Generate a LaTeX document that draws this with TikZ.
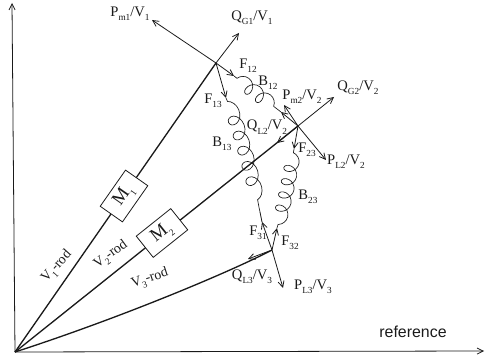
\documentclass[tikz,border=0pt]{standalone}
\usepackage{fontspec}
\setmainfont{Liberation Serif}
\setsansfont{Liberation Sans}
\usetikzlibrary{arrows.meta, decorations.pathmorphing}
\definecolor{cink}{HTML}{1A1A1A}
\tikzset{
  every picture/.style={line width=0.6pt, cink},
  label/.style={font=\fontsize{11pt}{12pt}\selectfont, inner sep=0pt, text=cink},
  rodlabel/.style={label, font=\fontsize{10.5pt}{11pt}\selectfont},
  rod/.style={line width=1pt},
  arrow/.style={-{Straight Barb[length=1.6mm, width=1.6mm]}, line width=0.6pt},
  spring/.style 2 args={decorate, decoration={coil, amplitude=1.9mm, segment length=#1, aspect=#2, pre length=1mm, post length=1mm}, line width=0.5pt},
  machine/.style={draw, fill=white, line width=0.6pt, minimum width=1.17cm, minimum height=0.72cm, inner sep=0pt, font=\fontsize{14pt}{15pt}\selectfont},
}
\newcommand{\sub}[1]{\raisebox{-0.3em}{\fontsize{7pt}{8pt}\selectfont #1}}

\begin{document}
\begin{tikzpicture}[x=0.0265cm, y=-0.0265cm]
  \useasboundingbox (0,0) rectangle (485,356);
  \coordinate (O) at (15,352);
  \coordinate (yend) at (12,3);
  \coordinate (xend) at (484,351);
  \coordinate (bus1) at (216,63);
  \coordinate (bus2) at (298,126);
  \coordinate (bus3) at (272,250);
  % axes
  \draw[arrow] (O) -- (yend);
  \draw[arrow] (O) -- (xend);
  % rods
  \draw[rod] (O) -- (bus1);
  \draw[rod] (O) -- (bus2);
  \draw[rod] (O) .. controls (120,318) and (230,272) .. (bus3);
  \draw[arrow] (bus2) -- (277,143);
  \draw[arrow] (bus3) -- (248,259);
  \node[machine, rotate=55] (m1) at (124,196) {M\sub{1}};
  \node[machine, rotate=38.6] (m2) at (162,233) {M\sub{2}};
  % powers
  \coordinate (pm1) at (152,20);
  \coordinate (qg1) at (239,33);
  \coordinate (pm2) at (284,105);
  \coordinate (qg2) at (334,97);
  \coordinate (pl2) at (326,160);
  \coordinate (pl3) at (283,288);
  \draw[arrow] (bus1) -- (pm1);
  \draw[arrow] (bus1) -- (qg1);
  \draw[arrow] (bus2) -- (pm2);
  \draw[arrow] (bus2) -- (qg2);
  \draw[arrow] (bus2) -- (pl2);
  \draw[arrow] (bus3) -- (pl3);
  % flows
  \coordinate (f12) at (234,76);
  \coordinate (f13) at (226,98);
  \coordinate (f21) at (281,112);
  \coordinate (f23) at (294,149);
  \coordinate (f31) at (262,222);
  \coordinate (f32) at (277,228);
  \draw[arrow] (bus1) -- (f12);
  \draw[arrow] (bus1) -- (f13);
  \draw[arrow] (bus2) -- (f21);
  \draw[arrow] (bus2) -- (f23);
  \draw[arrow] (bus3) -- (f31);
  \draw[arrow] (bus3) -- (f32);
  % springs
  \draw[spring={3.6mm}{0.85}] (f12) -- (f21);
  \draw[spring={4.2mm}{1.1}] (f13) .. controls (240,130) and (252,175) .. (260,212);
  \draw[spring={3.6mm}{0.85}] (f23) .. controls (290,175) and (284,205) .. (f32);
  \draw (f31) -- (260,212);
  % labels
  \node[label] (lpm1) at (130,14) {P\sub{m1}/V\sub{1}};
  \node[label] (lqg1) at (252,18) {Q\sub{G1}/V\sub{1}};
  \node[label] (lf12) at (248,66) {F\sub{12}};
  \node[label] (lb12) at (268,83) {B\sub{12}};
  \node[label] (lf13) at (213,101) {F\sub{13}};
  \node[label] (lql2) at (267,127) {Q\sub{L2}/V\sub{2}};
  \node[label] (lb13) at (222,144) {B\sub{13}};
  \node[label] (lpm2) at (302,97) {P\sub{m2}/V\sub{2}};
  \node[label] (lqg2) at (358,88) {Q\sub{G2}/V\sub{2}};
  \node[label] (lf23) at (307,150) {F\sub{23}};
  \node[label] (lpl2) at (346,162) {P\sub{L2}/V\sub{2}};
  \node[label] (lb23) at (308,197) {B\sub{23}};
  \node[label] (lf31) at (258,233) {F\sub{31}};
  \node[label] (lf32) at (290,243) {F\sub{32}};
  \node[label] (lql3) at (252,277) {Q\sub{L3}/V\sub{3}};
  \node[label] (lpl3) at (313,287) {P\sub{L3}/V\sub{3}};
  \node[rodlabel, rotate=48] (lr1) at (57,267) {V\sub{1}-rod};
  \node[rodlabel, rotate=36] (lr2) at (111,255) {V\sub{2}-rod};
  \node[rodlabel, rotate=18] (lr3) at (150,279) {V\sub{3}-rod};
  \node[label, font=\sffamily\fontsize{12pt}{13pt}\selectfont] (lref) at (413,332) {reference};
\end{tikzpicture}
\end{document}
